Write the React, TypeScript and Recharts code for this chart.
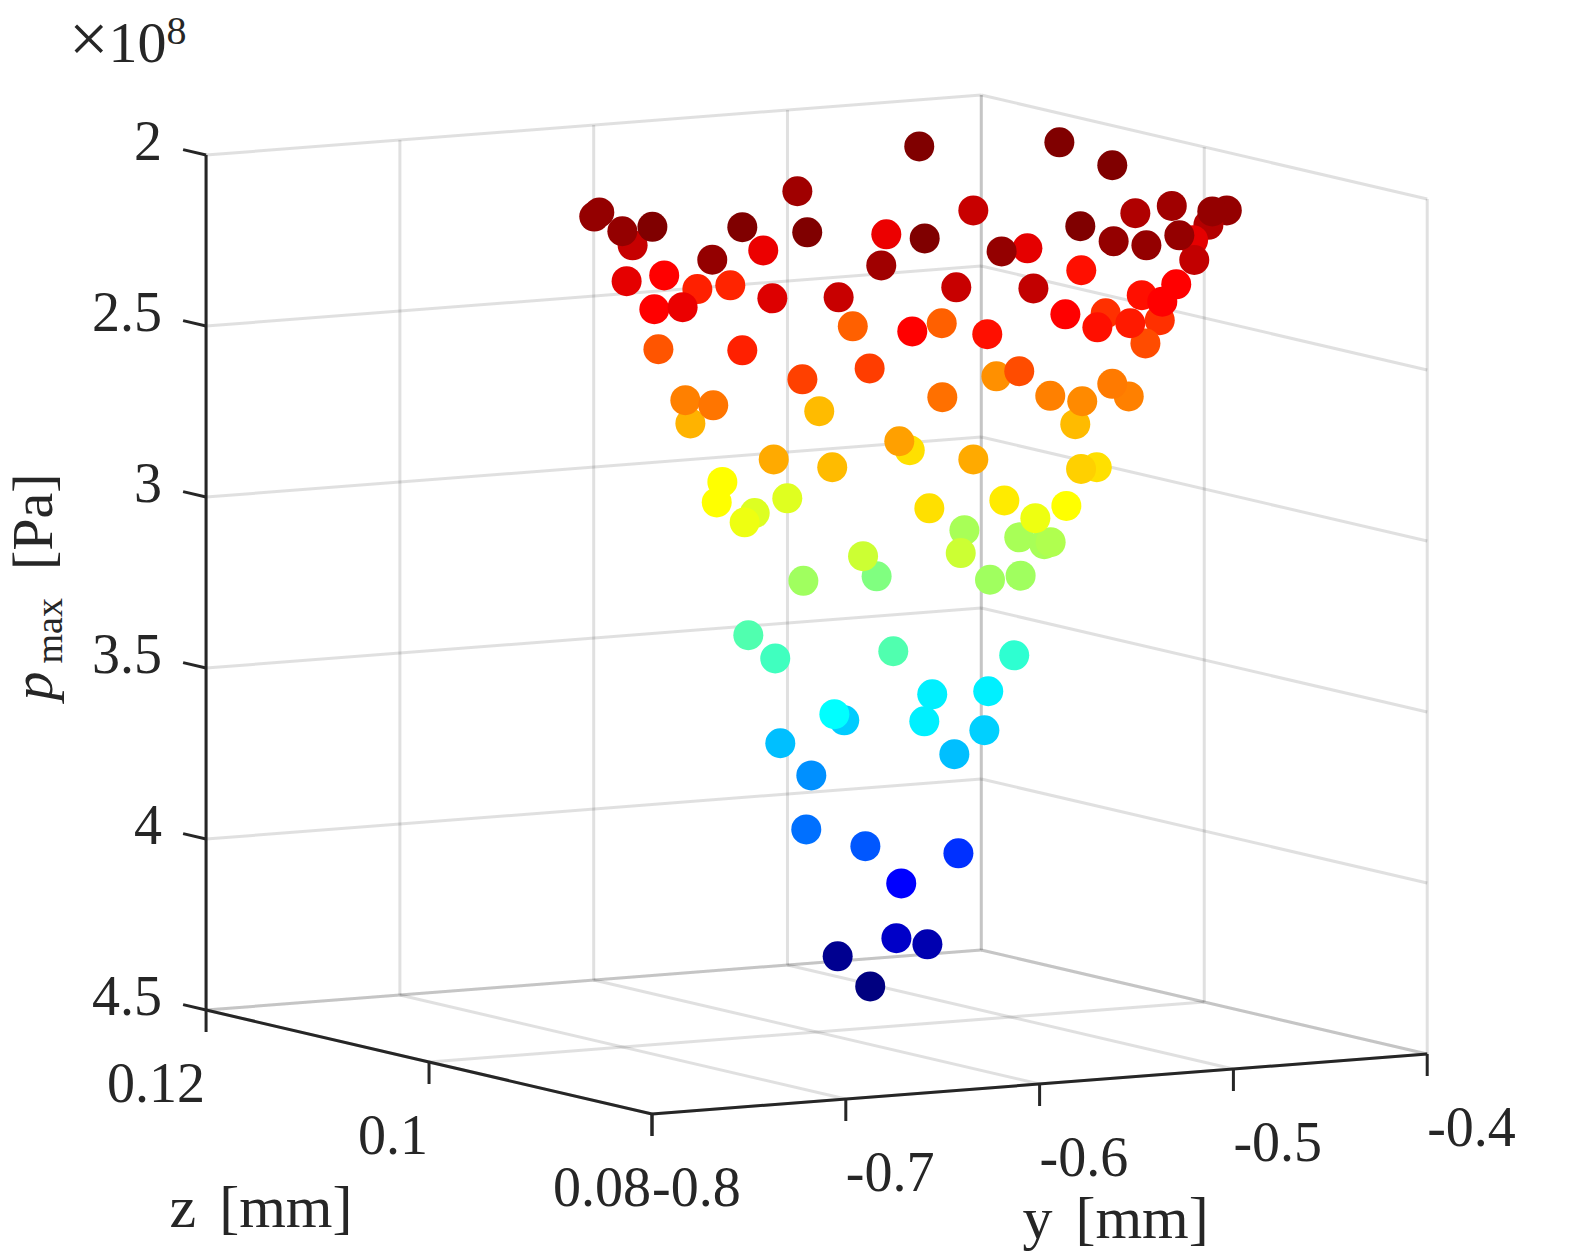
// App.tsx - maximum pressure scatter, a 3D MATLAB view flattened onto the screen plane

import React from 'react';
import { ScatterChart, Scatter, XAxis, YAxis, ReferenceLine, ReferenceDot } from 'recharts';

// tick values of the three axes
const yTicks = [-0.8, -0.7, -0.6, -0.5, -0.4];
const zTicks = [0.08, 0.1, 0.12];
const pTicks = [2, 2.5, 3, 3.5, 4, 4.5];

// points as seen on the view plane: y [mm] along the front edge, p [1e8 Pa] along the vertical
const viewY = [
  -0.8272, -0.8298, -0.81, -0.8153, -0.7998, -0.7534, -0.725, -0.7199, -0.7426, -0.7689,
  -0.6791, -0.6817, -0.6593, -0.8131, -0.7937, -0.7766, -0.7988, -0.7842, -0.7596, -0.7379,
  -0.7037, -0.6964, -0.6657, -0.7967, -0.7534, -0.6877, -0.7224, -0.7802, -0.7828, -0.7684,
  -0.7137, -0.6621, -0.5898, -0.5625, -0.6342, -0.5506, -0.5318, -0.5034, -0.5129, -0.5109,
  -0.579, -0.5618, -0.5449, -0.5208, -0.5202, -0.5279, -0.6063, -0.6196, -0.5785, -0.6032,
  -0.643, -0.5295, -0.5473, -0.538, -0.5367, -0.5867, -0.5659, -0.5702, -0.5454, -0.5532,
  -0.6505, -0.627, -0.6223, -0.6105, -0.6502, -0.5945, -0.5816, -0.578, -0.554, -0.5625,
  -0.667, -0.6724, -0.7372, -0.707, -0.6342, -0.5705, -0.5786, -0.7637, -0.7666, -0.747,
  -0.7522, -0.7302, -0.6569, -0.6182, -0.5862, -0.6105, -0.5976, -0.5943, -0.6022, -0.6388,
  -0.6407, -0.6841, -0.6911, -0.7219, -0.6256, -0.6098, -0.7503, -0.7364, -0.6755, -0.6131,
  -0.6554, -0.6265, -0.7008, -0.7059, -0.6595, -0.6285, -0.7338, -0.644, -0.7178, -0.7204,
  -0.6899, -0.6419, -0.6714, -0.6739, -0.6579, -0.7042, -0.6874,
];
const viewP = [
  2.168, 2.18, 2.264, 2.223, 2.21, 2.211, 2.106, 2.226, 2.279, 2.306,
  2.232, 2.323, 2.244, 2.369, 2.352, 2.392, 2.451, 2.445, 2.381, 2.419,
  2.416, 2.501, 2.516, 2.568, 2.571, 2.624, 2.656, 2.785, 2.717, 2.732,
  2.749, 1.975, 1.963, 2.03, 2.162, 2.17, 2.149, 2.162, 2.204, 2.165,
  2.208, 2.252, 2.264, 2.249, 2.307, 2.235, 2.273, 2.282, 2.337, 2.39,
  2.387, 2.378, 2.41, 2.483, 2.429, 2.466, 2.463, 2.504, 2.551, 2.492,
  2.492, 2.524, 2.647, 2.632, 2.708, 2.704, 2.787, 2.72, 2.706, 2.669,
  2.863, 2.837, 2.89, 2.913, 2.89, 2.913, 2.918, 2.956, 3.016, 3.047,
  3.074, 3.004, 3.033, 3.01, 3.026, 3.118, 3.138, 3.132, 3.062, 3.097,
  3.164, 3.232, 3.173, 3.245, 3.242, 3.23, 3.404, 3.472, 3.451, 3.463,
  3.577, 3.568, 3.653, 3.635, 3.656, 3.682, 3.72, 3.752, 3.814, 3.972,
  4.021, 4.042, 4.13, 4.29, 4.308, 4.343, 4.431,
];
// position on the jet colormap, 0 = dark blue, 1 = dark red
const jetLevel = [
  0.98, 0.98, 0.93, 0.98, 1, 1, 0.968, 1, 0.894, 0.98,
  0.894, 0.968, 1, 0.9, 0.875, 0.844, 0.875, 0.895, 0.84, 0.908,
  0.929, 0.781, 0.875, 0.792, 0.844, 0.815, 0.8125, 0.7, 0.75, 0.76,
  0.692, 1, 1, 1, 0.929, 0.952, 0.968, 0.98, 0.95, 0.98,
  1, 0.98, 0.98, 0.9, 0.935, 0.98, 0.9, 0.98, 0.86, 0.935,
  0.929, 0.875, 0.86, 0.828, 0.875, 0.875, 0.828, 0.86, 0.8, 0.85,
  0.781, 0.86, 0.734, 0.8, 0.765, 0.75, 0.692, 0.74, 0.75, 0.755,
  0.655, 0.718, 0.708, 0.692, 0.708, 0.655, 0.671, 0.625, 0.625, 0.592,
  0.608, 0.594, 0.655, 0.645, 0.625, 0.54, 0.54, 0.548, 0.608, 0.54,
  0.575, 0.5, 0.575, 0.532, 0.532, 0.532, 0.453, 0.4375, 0.453, 0.42,
  0.36, 0.36, 0.325, 0.375, 0.36, 0.329, 0.3125, 0.3125, 0.266, 0.235,
  0.21, 0.172, 0.125, 0.071, 0.0475, 0.016, 0,
];

const points = viewY.map((y, i) => ({ y, p: viewP[i], level: jetLevel[i] }));

const WIDTH = 1575;
const HEIGHT = 1260;
const INK = '#262626';
const FONT = '"Liberation Serif", serif';
const GRID = { stroke: INK, strokeOpacity: 0.14, strokeWidth: 3 };
const AXIS = { stroke: INK, strokeWidth: 3 };

// orthographic view of the box, gives view plane coordinates
const project = (y: number, z: number, p: number) => {
  const a = (y + 0.8) / 0.4;
  const b = (z - 0.08) / 0.04;
  return { x: -0.8 + 0.4 * a - 0.2301 * b, y: p + 0.3041 - 0.1754 * a - 0.3041 * b };
};

type P3 = [number, number, number];
const seg = (from: P3, to: P3) => [project(...from), project(...to)];

const gridLines = [
  ...pTicks.flatMap((p) => [seg([-0.8, 0.12, p], [-0.4, 0.12, p]), seg([-0.4, 0.12, p], [-0.4, 0.08, p])]),
  ...yTicks.flatMap((y) => [seg([y, 0.12, 2], [y, 0.12, 4.5]), seg([y, 0.12, 4.5], [y, 0.08, 4.5])]),
  ...zTicks.flatMap((z) => [seg([-0.4, z, 2], [-0.4, z, 4.5]), seg([-0.8, z, 4.5], [-0.4, z, 4.5])]),
];

const axisLines = [
  seg([-0.8, 0.12, 2], [-0.8, 0.12, 4.5]),
  seg([-0.8, 0.08, 4.5], [-0.4, 0.08, 4.5]),
  seg([-0.8, 0.08, 4.5], [-0.8, 0.12, 4.5]),
  ...pTicks.map((p) => seg([-0.8, 0.12, p], [-0.8, 0.12206, p])),
  ...yTicks.map((y) => seg([y, 0.08, 4.5], [y, 0.08, 4.5643])),
  ...zTicks.map((z) => seg([-0.8, z, 4.5], [-0.8, z, 4.5643])),
];

const tickLabels = [
  ...pTicks.map((p) => ({ text: String(p), at: project(-0.8, 0.12, p), dx: -44, dy: 5, anchor: 'end' })),
  ...yTicks.map((y) => ({ text: String(y), at: project(y, 0.08, 4.5), dx: 0, dy: 92, anchor: 'start' })),
  ...zTicks.map((z) => ({ text: String(z), at: project(-0.8, z, 4.5), dx: -1, dy: 92, anchor: 'end' })),
];

const jet = (t: number) => {
  const ch = (c: number) => Math.round(255 * Math.min(1, Math.max(0, 1.5 - Math.abs(4 * t - c))));
  return `rgb(${ch(3)},${ch(2)},${ch(1)})`;
};

const Dot = (props: any) => <circle cx={props.cx} cy={props.cy} r={15} fill={jet(props.payload.level)} />;

const App: React.FC = () => {
  const zTitle = project(-0.8, 0.1, 4.5);
  const yTitle = project(-0.6, 0.08, 4.5);
  const pTitle = project(-0.8, 0.12, 3.25);
  const scale = project(-0.8, 0.12, 2);

  return (
    <div style={{ position: 'absolute', left: 0, top: 0, width: WIDTH, height: HEIGHT, background: '#fff' }}>
      <ScatterChart width={WIDTH} height={HEIGHT} margin={{ top: 0, right: 0, bottom: 0, left: 0 }}>
        <XAxis type="number" dataKey="y" hide domain={[-1.13643, -0.32374]} allowDataOverflow />
        <YAxis type="number" dataKey="p" hide reversed domain={[1.54678, 5.23099]} allowDataOverflow />
        {gridLines.map((s, i) => (
          <ReferenceLine key={`g${i}`} segment={s} {...GRID} ifOverflow="visible" />
        ))}
        {axisLines.map((s, i) => (
          <ReferenceLine key={`a${i}`} segment={s} {...AXIS} ifOverflow="visible" />
        ))}
        <Scatter data={points} shape={Dot} isAnimationActive={false} />
        {tickLabels.map((t) => (
          <ReferenceDot
            key={`${t.text}-${t.anchor}`}
            x={t.at.x}
            y={t.at.y}
            r={0}
            ifOverflow="visible"
            shape={(s: any) => (
              <text x={s.cx + t.dx} y={s.cy + t.dy} textAnchor={t.anchor} fontFamily={FONT} fontSize={56} fill={INK}>
                {t.text}
              </text>
            )}
          />
        ))}
        <ReferenceDot
          x={zTitle.x}
          y={zTitle.y}
          r={0}
          ifOverflow="visible"
          shape={(s: any) => (
            <text x={s.cx - 168} y={s.cy + 165} textAnchor="middle" fontFamily={FONT} fontSize={60} wordSpacing={8} fill={INK}>
              z [mm]
            </text>
          )}
        />
        <ReferenceDot
          x={yTitle.x}
          y={yTitle.y}
          r={0}
          ifOverflow="visible"
          shape={(s: any) => (
            <text x={s.cx + 76} y={s.cy + 154} textAnchor="middle" fontFamily={FONT} fontSize={60} wordSpacing={8} fill={INK}>
              y [mm]
            </text>
          )}
        />
        <ReferenceDot
          x={pTitle.x}
          y={pTitle.y}
          r={0}
          ifOverflow="visible"
          shape={(s: any) => (
            <text
              x={s.cx - 154}
              y={s.cy + 118}
              transform={`rotate(-90 ${s.cx - 154} ${s.cy + 118})`}
              fontFamily={FONT}
              fontSize={58}
              fill={INK}
            >
              <tspan fontStyle="italic" fontSize={58}>p</tspan>
              <tspan fontSize={38} dy={10} dx={8}>max</tspan>
              <tspan dy={-10} dx={28}>[Pa]</tspan>
            </text>
          )}
        />
        <ReferenceDot
          x={scale.x}
          y={scale.y}
          r={0}
          ifOverflow="visible"
          shape={(s: any) => (
            <text x={s.cx - 137} y={s.cy - 93} fontFamily={FONT} fontSize={58} fill={INK}>
              <tspan fontSize={70}>×</tspan>10
              <tspan fontSize={40} dy={-18}>8</tspan>
            </text>
          )}
        />
      </ScatterChart>
    </div>
  );
};

export default App;
